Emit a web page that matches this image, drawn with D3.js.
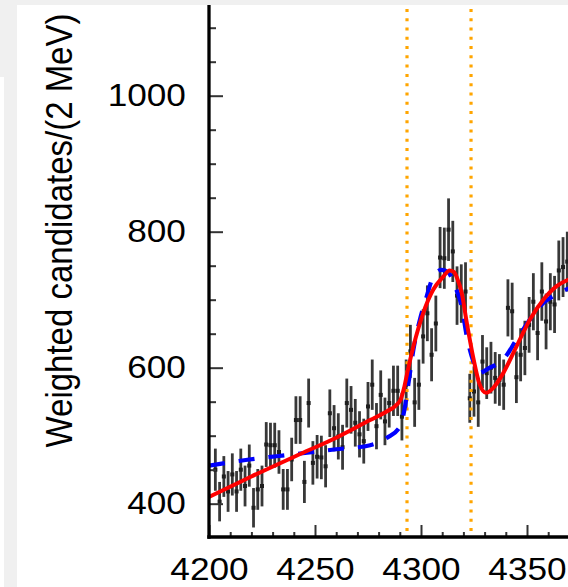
<!DOCTYPE html>
<html><head><meta charset="utf-8">
<script src="https://cdn.jsdelivr.net/npm/d3@7"></script>
<style>html,body{margin:0;padding:0;background:#f0f0f0;overflow:hidden}</style>
</head><body>
<svg id="c" width="568" height="587"></svg>
<script>
// ---- data ----
const massBins = [4203,4205,4207,4209,4211,4213,4215,4217,4219,4221,4223,4225,4227,4229,4231,4233,4235,4237,4239,4241,4243,4245,4247,4249,4251,4253,4255,4257,4259,4261,4263,4265,4267,4269,4271,4273,4275,4277,4279,4281,4283,4285,4287,4289,4291,4293,4295,4297,4299,4301,4303,4305,4307,4309,4311,4313,4315,4317,4319,4321,4323,4325,4327,4329,4331,4333,4335,4337,4339,4341,4343,4345,4347,4349,4351,4353,4355,4357,4359,4361,4363,4365,4367,4369];
const counts = [450,403,440,418,443,418,450,426,456,394,421,426,487,486,486,476,421,421,465,523,523,432,548,460,469,468,455,533,511,499,483,548,538,519,502,492,543,575,514,560,521,548,566,566,528,575,624,549,575,646,680,619,665,762,761,803,771,706,709,712,555,565,549,609,592,600,585,582,575,688,683,586,619,629,663,697,651,712,668,697,693,743,748,756];
const errors = [31,29,30,30,31,30,31,30,31,29,30,30,33,33,33,32,30,30,32,35,35,31,36,32,32,32,31,35,34,34,33,36,35,35,34,33,36,37,34,36,35,36,37,37,35,37,39,36,37,40,41,39,41,45,45,46,45,43,43,43,36,37,36,39,38,38,38,38,37,42,42,38,39,40,41,42,40,43,41,42,42,44,44,44];

const redMass  = [4200,4220,4243,4260,4276,4284,4288,4290.5,4292,4293.5,4296.4,4301,4305.8,4310.5,4313.5,4315.5,4317,4319.2,4321.6,4324.7,4327.5,4330.7,4334,4338.8,4345,4351.4,4357.7,4364,4370];
const redValue = [410,440,473,497,523,536,544,554,570,592,631,680,715,734,743,741,732,710,666,614,577,563,570,592,631,671,700,720,730];

const blueMass  = [4200,4219,4238,4260,4276,4284,4290,4292,4294,4296.4,4299.5,4302.7,4305.8,4309.8,4312.9,4316,4319.2,4321.6,4324.7,4327,4332.5,4338.8,4345,4351.4,4357.7,4364,4370];
const blueValue = [456,465,472,480,486,497,513,535,575,626,671,705,734,744,740,720,690,646,609,592,600,612,641,671,695,708,717];

const windowEdges = [4293.4, 4323.6];
const xMajorTicks = [4200,4250,4300,4350];
const xMinorTicks = [4210,4220,4230,4240,4260,4270,4280,4290,4310,4320,4330,4340,4360];
const yMajorTicks = [400,600,800,1000];
const yMinorTicks = [450,500,550,650,700,750,850,900,950,1050,1100];
const yTitle = "Weighted candidates/(2 MeV)";

// ---- layout ----
const svg = d3.select("#c");
const X0 = 209, X1 = 568, Y0 = 5, Y1 = 537;
const x = d3.scaleLinear().domain([4200, 4369.34]).range([X0, X1]);
const y = d3.scaleLinear().domain([351, 1133.4]).range([Y1, Y0]);

svg.append("rect").attr("width",568).attr("height",587).attr("fill","#f0f0f0");
svg.append("rect").attr("x",17).attr("y",5).attr("width",551).attr("height",582).attr("fill","#fff");
svg.append("rect").attr("x",0).attr("y",77).attr("width",4).attr("height",510).attr("fill","#fff");

svg.append("defs").append("clipPath").attr("id","clip")
  .append("rect").attr("x",X0).attr("y",Y0).attr("width",X1-X0).attr("height",Y1-Y0);

const plot = svg.append("g").attr("clip-path","url(#clip)");

const pts = massBins.map((m,i)=>({m, v:counts[i], e:errors[i]}));

// error bars
plot.append("g").selectAll("line").data(pts).join("line")
  .attr("x1",d=>x(d.m)).attr("x2",d=>x(d.m))
  .attr("y1",d=>y(d.v-d.e)).attr("y2",d=>y(d.v+d.e))
  .attr("stroke","#383838").attr("stroke-width",2.8);
plot.append("g").selectAll("rect").data(pts).join("rect")
  .attr("x",d=>x(d.m)-2).attr("y",d=>y(d.v)-2).attr("width",4).attr("height",4)
  .attr("fill","#1e1e1e");

// window lines
plot.append("g").selectAll("line").data(windowEdges).join("line")
  .attr("x1",d=>x(d)).attr("x2",d=>x(d)).attr("y1",Y0+4).attr("y2",Y1)
  .attr("stroke","#ffa500").attr("stroke-width",3.2).attr("stroke-dasharray","3,6.27");

const line = d3.line().x(d=>x(d[0])).y(d=>y(d[1])).curve(d3.curveMonotoneX);
plot.append("path").datum(blueMass.map((m,i)=>[m,blueValue[i]]))
  .attr("d",line).attr("fill","none").attr("stroke","#0000ff")
  .attr("stroke-width",4.2).attr("stroke-dasharray","16,14");
plot.append("path").datum(redMass.map((m,i)=>[m,redValue[i]]))
  .attr("d",line).attr("fill","none").attr("stroke","#ff0000")
  .attr("stroke-width",4);

// axes
const font = "'Liberation Sans', Arial, sans-serif";
function styleAxis(g){
  g.select(".domain").remove();
  g.selectAll(".tick line").attr("stroke","#333").attr("stroke-width",2);
  g.selectAll("text").attr("fill","#000").attr("font-family",font).attr("font-size",32);
}
const yMajor = svg.append("g").attr("transform",`translate(${X0},0)`)
  .call(d3.axisLeft(y).tickValues(yMajorTicks).tickSize(-14).tickPadding(21).tickFormat(d3.format("d")));
styleAxis(yMajor);
yMajor.selectAll("text").attr("transform","scale(1.1,1)");
const yMinor = svg.append("g").attr("transform",`translate(${X0},0)`)
  .call(d3.axisLeft(y).tickValues(yMinorTicks).tickSize(-7).tickFormat(""));
styleAxis(yMinor);

const xMajor = svg.append("g").attr("transform",`translate(0,${Y1})`)
  .call(d3.axisBottom(x).tickValues(xMajorTicks).tickSize(-12).tickPadding(20).tickFormat(d3.format("d")));
styleAxis(xMajor);
xMajor.selectAll("text").attr("transform","scale(1.1,1)");
const xMinor = svg.append("g").attr("transform",`translate(0,${Y1})`)
  .call(d3.axisBottom(x).tickValues(xMinorTicks).tickSize(-5).tickFormat(""));
styleAxis(xMinor);

svg.append("line").attr("x1",X0).attr("x2",X0).attr("y1",Y0).attr("y2",Y1+1.7)
  .attr("stroke","#000").attr("stroke-width",3.3);
svg.append("line").attr("x1",X0-1.7).attr("x2",X1).attr("y1",Y1).attr("y2",Y1)
  .attr("stroke","#000").attr("stroke-width",3.3);

svg.append("text").text(yTitle)
  .attr("transform","translate(71.7,230.5) scale(1.1,1) rotate(-90)")
  .attr("text-anchor","middle").attr("font-family",font).attr("font-size",33).attr("fill","#000");
</script>
</body></html>
